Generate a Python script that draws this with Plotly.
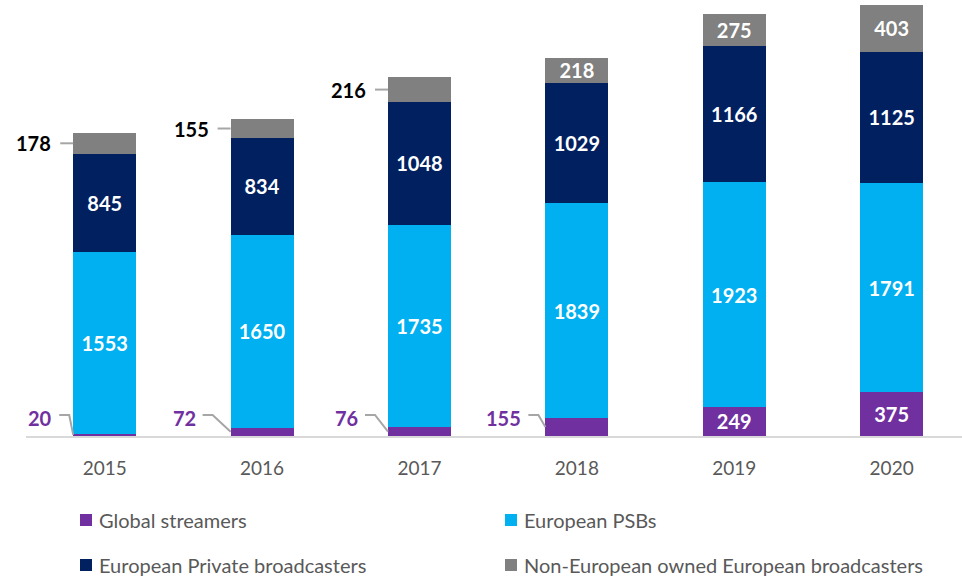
import plotly.graph_objects as go

# ---------------- data ----------------
years = ["2015", "2016", "2017", "2018", "2019", "2020"]
global_streamers = [20, 72, 76, 155, 249, 375]
european_psbs = [1553, 1650, 1735, 1839, 1923, 1791]
european_private = [845, 834, 1048, 1029, 1166, 1125]
non_european = [178, 155, 216, 218, 275, 403]
series_names = ["Global streamers", "European PSBs",
                "European Private broadcasters",
                "Non-European owned European broadcasters"]

# which labels are drawn outside the bar with a leader line
gs_outside = [True, True, True, True, False, False]
ne_outside = [True, True, True, False, False, False]

# ---------------- style ----------------
colors = ["#7030A0", "#00B0F0", "#002060", "#808080"]
FONT = "Lato"
W, H = 962, 578
ML, MR, MT, MB = 26, 0, 4, 142
PW, PH = W - ML - MR, H - MT - MB
XR = [-0.5, 5.447]
YR = [0, 3700]
BARW = 0.4
px_x = PW / (XR[1] - XR[0])   # pixels per category unit
px_y = PH / (YR[1] - YR[0])   # pixels per value unit

# per-bar leader geometry (pixels): text gap from bar edge, elbow gap from bar edge
gs_text_gap = [22, 36, 31, 25]
gs_elbow_gap = [4, 18, 13, 7]
gs_label_px = 18  # label height above the baseline, pixels

fig = go.Figure()
series = [global_streamers, european_psbs, european_private, non_european]
for k, (name, vals) in enumerate(zip(series_names, series)):
    if k == 0:
        txt = ["" if o else str(v) for v, o in zip(vals, gs_outside)]
    elif k == 3:
        txt = ["" if o else str(v) for v, o in zip(vals, ne_outside)]
    else:
        txt = [str(v) for v in vals]
    fig.add_trace(go.Bar(
        x=years, y=vals, name=name, width=BARW,
        marker=dict(color=colors[k], line=dict(width=0)),
        text=txt, textposition="inside", insidetextanchor="middle",
        textangle=0,
        textfont=dict(family=FONT, size=20, color="white", weight="bold"),
        hoverinfo="skip", showlegend=False,
    ))

annotations = []
shapes = []
LEAD = "#A6A6A6"

# Non-European labels outside (left, horizontal leader)
for i, (v, o) in enumerate(zip(non_european, ne_outside)):
    if not o:
        continue
    base = global_streamers[i] + european_psbs[i] + european_private[i]
    mid = base + v / 2
    left = i - BARW / 2
    annotations.append(dict(
        x=left, y=mid, xref="x", yref="y", text=str(v), showarrow=False,
        xanchor="right", yanchor="middle", xshift=-20,
        font=dict(family=FONT, size=20, color="black", weight="bold")))
    shapes.append(dict(type="line", xref="x", yref="y",
                       x0=left - 13 / px_x, x1=left, y0=mid, y1=mid,
                       line=dict(color=LEAD, width=2)))

# Global streamers labels outside (left, bent leader)
for i, (v, o) in enumerate(zip(global_streamers, gs_outside)):
    if not o:
        continue
    mid = v / 2
    left = i - BARW / 2
    ly = gs_label_px / px_y
    annotations.append(dict(
        x=left, y=ly, xref="x", yref="y", text=str(v), showarrow=False,
        xanchor="right", yanchor="middle", xshift=-gs_text_gap[i] + 3,
        font=dict(family=FONT, size=20, color="#7030A0", weight="bold")))
    x_start = left - (gs_text_gap[i] - 8) / px_x
    x_elbow = left - gs_elbow_gap[i] / px_x
    ly_line = ly + 3 / px_y
    shapes.append(dict(type="path", xref="x", yref="y",
                       path=f"M {x_start} {ly_line} L {x_elbow} {ly_line} L {left} {mid}",
                       line=dict(color=LEAD, width=2)))

# Manual legend (2 columns x 2 rows)
def px_to_paper(px, py):
    return (px - ML) / PW, (H - MB - py) / PH

leg_cols = [80, 505]
leg_rows = [520, 565]
order = [(0, 0, 0), (1, 1, 0), (2, 0, 1), (3, 1, 1)]
for k, c, r in order:
    sx, sy = leg_cols[c], leg_rows[r]
    x0, y0 = px_to_paper(sx, sy + 6)
    x1, y1 = px_to_paper(sx + 12, sy - 6)
    shapes.append(dict(type="rect", xref="paper", yref="paper",
                       x0=x0, x1=x1, y0=y0, y1=y1,
                       fillcolor=colors[k], line=dict(width=0)))
    tx, ty = px_to_paper(sx + 17, sy)
    annotations.append(dict(
        x=tx, y=ty, xref="paper", yref="paper", text=series_names[k],
        showarrow=False, xanchor="left", yanchor="middle",
        font=dict(family=FONT, size=20, color="#595959")))

fig.update_layout(
    barmode="stack",
    width=W, height=H,
    margin=dict(l=ML, r=MR, t=MT, b=MB),
    plot_bgcolor="white", paper_bgcolor="white",
    showlegend=False,
    uniformtext=dict(minsize=20, mode="show"),
    annotations=annotations, shapes=shapes,
    font=dict(family=FONT),
    xaxis=dict(type="category", range=XR, showline=True, linecolor="#D9D9D9",
               linewidth=2, ticks="", showgrid=False, zeroline=False,
               tickfont=dict(family=FONT, size=19, color="#595959"),
               ticklabelstandoff=14),
    yaxis=dict(range=YR, visible=False, showgrid=False, zeroline=False),
)

fig.write_html("out.html",
               config={"displayModeBar": False, "staticPlot": True},
               post_script="document.body.style.margin='0';document.body.style.overflow='hidden';")
